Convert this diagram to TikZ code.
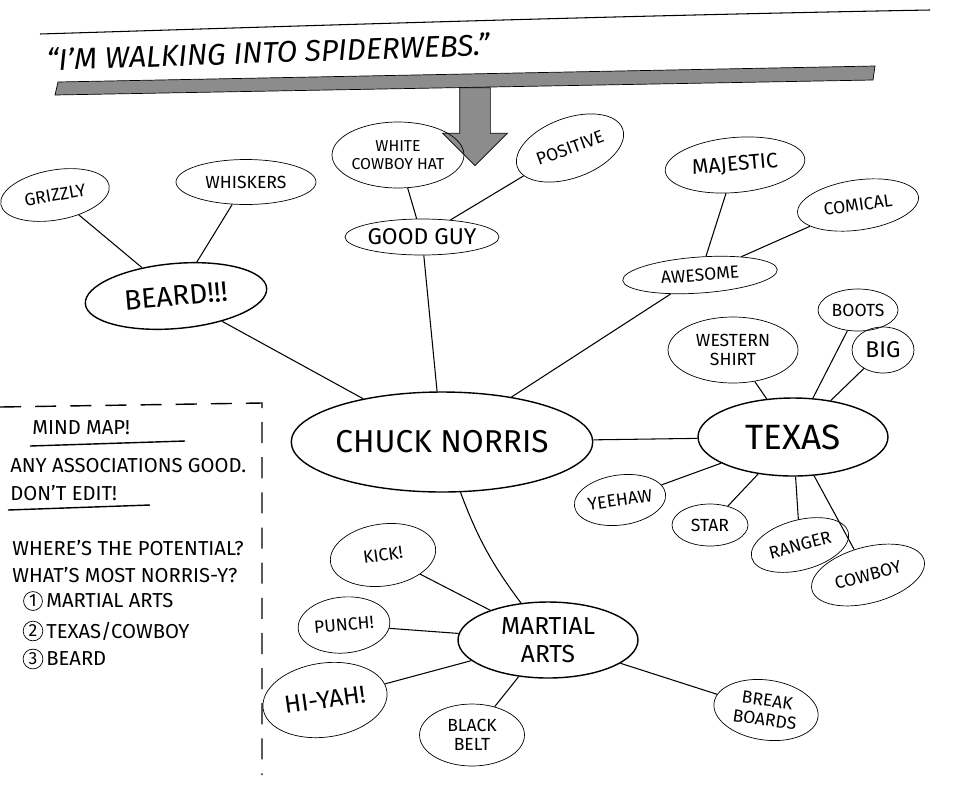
\documentclass[tikz,border=0pt]{standalone}
\usepackage{fontspec}
\setmainfont{Fira Sans}
\usetikzlibrary{shapes.geometric,shapes.arrows}
\tikzset{
    big-bubble/.style = {draw, thick, ellipse, inner sep=0pt, align=center, font=\fontsize{20}{22}\selectfont},
    bubble/.style = {draw, ellipse, inner sep=0pt, align=center, font=\fontsize{10}{11}\selectfont},
    link/.style = {draw, semithick},
    note/.style = {anchor=west, inner sep=0pt, font=\fontsize{11.5}{13}\selectfont},
    num/.style = {draw, circle, inner sep=1pt, font=\fontsize{10}{11}\selectfont},
}
\begin{document}
\begin{tikzpicture}[x=0.02cm, y=-0.02cm]
\useasboundingbox (0,0) rectangle (955,805);

% title
\draw[semithick] (40,34) .. controls (300,26) and (600,16) .. (930,10);
\node[rotate=2, font=\fontsize{17}{20}\itshape] (title) at (268,52) {``I'M WALKING INTO SPIDERWEBS.''};
\draw[fill=black!45, draw=black] (55,95) -- (58,82) -- (875,66) -- (873,80) -- cycle;
\node[single arrow, draw, fill=black!45, rotate=-90, minimum height=1.56cm, inner xsep=0pt, inner ysep=0.3cm, single arrow head extend=0.34cm] (arrow) at (475,119) {};

% main nodes
\node[big-bubble, minimum width=5.9cm, minimum height=2cm, font=\fontsize{18}{20}\selectfont] (chuck) at (442,442) {CHUCK NORRIS};
\node[big-bubble, minimum width=3.64cm, minimum height=1.3cm, rotate=5, font=\fontsize{16}{18}\selectfont] (beard) at (176,296) {BEARD!!!};
\node[bubble, minimum width=3cm, minimum height=0.72cm, font=\fontsize{13}{14}\selectfont] (goodguy) at (422,237) {GOOD GUY};
\node[bubble, minimum width=3.1cm, minimum height=0.72cm, rotate=4] (awesome) at (700,275) {AWESOME};
\node[big-bubble, minimum width=3.8cm, minimum height=1.56cm] (texas) at (793,437) {TEXAS};
\node[big-bubble, minimum width=3.6cm, minimum height=1.52cm, font=\fontsize{14}{16}\selectfont] (martial) at (548,640) {MARTIAL\\ARTS};

% leaves
\node[bubble, minimum width=2.2cm, minimum height=1cm, rotate=10] (grizzly) at (55,195) {GRIZZLY};
\node[bubble, minimum width=2.8cm, minimum height=0.9cm] (whiskers) at (246,182) {WHISKERS};
\node[bubble, minimum width=2.64cm, minimum height=1.32cm, font=\fontsize{9}{10}\selectfont] (hat) at (398,155) {WHITE\\COWBOY HAT};
\node[bubble, minimum width=2.24cm, minimum height=1.2cm, rotate=20] (positive) at (570,148) {POSITIVE};
\node[bubble, minimum width=2.8cm, minimum height=1.1cm, rotate=5, font=\fontsize{12}{14}\selectfont] (majestic) at (735,165) {MAJESTIC};
\node[bubble, minimum width=2.44cm, minimum height=1cm, rotate=8] (comical) at (858,205) {COMICAL};
\node[bubble, minimum width=2.6cm, minimum height=1.32cm] (shirt) at (733,350) {WESTERN\\SHIRT};
\node[bubble, minimum width=1.6cm, minimum height=0.84cm] (boots) at (858,310) {BOOTS};
\node[bubble, minimum width=1.24cm, minimum height=0.92cm, font=\fontsize{13}{14}\selectfont] (big) at (883,350) {BIG};
\node[bubble, minimum width=1.8cm, minimum height=1cm, rotate=8] (yeehaw) at (620,500) {YEEHAW};
\node[bubble, minimum width=1.52cm, minimum height=0.84cm] (star) at (710,525) {STAR};
\node[bubble, minimum width=2cm, minimum height=1cm, rotate=15] (ranger) at (800,545) {RANGER};
\node[bubble, minimum width=2.32cm, minimum height=1.12cm, rotate=15] (cowboy) at (868,575) {COWBOY};
\node[bubble, minimum width=2.12cm, minimum height=1.24cm, rotate=8] (kick) at (383,555) {KICK!};
\node[bubble, minimum width=1.84cm, minimum height=1.12cm, rotate=5] (punch) at (344,625) {PUNCH!};
\node[bubble, minimum width=2.5cm, minimum height=1.48cm, rotate=8, font=\fontsize{14}{16}\selectfont] (hiyah) at (325,700) {HI-YAH!};
\node[bubble, minimum width=2.1cm, minimum height=1.24cm] (belt) at (472,735) {BLACK\\BELT};
\node[bubble, minimum width=2.1cm, minimum height=1.2cm, rotate=-8] (boards) at (766,710) {BREAK\\BOARDS};

% links
\foreach \from/\to in {chuck/beard, chuck/goodguy, chuck/awesome, chuck/texas,
    beard/grizzly, beard/whiskers, goodguy/hat, goodguy/positive,
    awesome/majestic, awesome/comical,
    texas/shirt, texas/boots, texas/big, texas/yeehaw, texas/star, texas/ranger, texas/cowboy,
    martial/kick, martial/punch, martial/hiyah, martial/belt, martial/boards}
    \draw[link] (\from) -- (\to);
\draw[link] (chuck) to[bend right=8] (martial);

% notes
\draw[thick, dash pattern=on 12pt off 8pt] (0,407) -- (262,403) -- (262,775);
\node[note] (mindmap) at (32,428) {MIND MAP!};
\draw[thick] (30,446) -- (185,441);
\node[note] (assoc) at (10,466) {ANY ASSOCIATIONS GOOD.};
\node[note] (noedit) at (10,493) {DON'T EDIT!};
\draw[thick] (8,510) -- (150,505);
\node[note] (potential) at (12,548) {WHERE'S THE POTENTIAL?};
\node[note] (norrisy) at (12,575) {WHAT'S MOST NORRIS-Y?};
\node[note] (one) at (46,601) {MARTIAL ARTS};
\node[note] (two) at (46,631) {TEXAS/COWBOY};
\node[note] (three) at (46,659) {BEARD};
\node[num] (c1) at (33,601) {1};
\node[num] (c2) at (33,631) {2};
\node[num] (c3) at (33,659) {3};
\end{tikzpicture}
\end{document}
